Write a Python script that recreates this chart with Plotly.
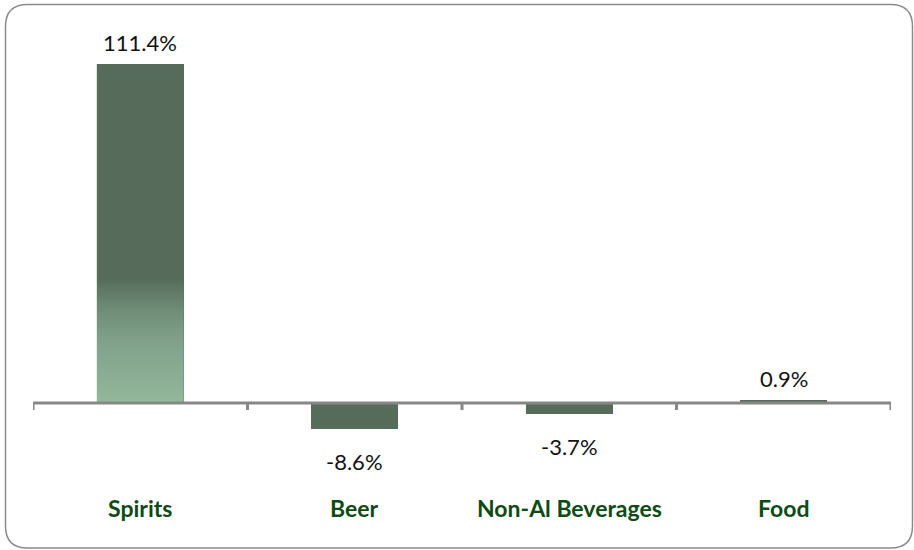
import plotly.graph_objects as go

# Year-on-year change by category (%)
categories = ["Spirits", "Beer", "Non-Al Beverages", "Food"]
changes = [111.4, -8.6, -3.7, 0.9]
value_labels = ["111.4%", "-8.6%", "-3.7%", "0.9%"]

BAR_DARK = "#566B5A"
BAR_LIGHT = "#93B89B"
AXIS_GRAY = "#878787"
CAT_GREEN = "#0D4A14"
FONT = "Lato"

W, H = 914, 550
ML, MR, MT, MB = 33, 23, 40, 110
Y_RANGE = [-12.17, 119.4]
BAR_W = 0.405

xs = list(range(len(categories)))

fig = go.Figure()

# Base bars
fig.add_trace(go.Bar(
    x=xs, y=changes, width=BAR_W,
    marker=dict(color=BAR_DARK, line=dict(width=0)),
    hoverinfo="skip", showlegend=False,
))

# Gradient overlay on the leading (Spirits) bar
i0, v0 = 0, changes[0]
fig.add_trace(go.Scatter(
    x=[i0 - BAR_W / 2, i0 + BAR_W / 2, i0 + BAR_W / 2, i0 - BAR_W / 2, i0 - BAR_W / 2],
    y=[0, 0, v0, v0, 0],
    mode="lines", line=dict(width=0), fill="toself",
    fillgradient=dict(
        type="vertical",
        colorscale=[[0.0, BAR_LIGHT], [0.19, "#80A08A"], [0.28, "#6E8B76"],
                    [0.37, BAR_DARK], [1.0, BAR_DARK]],
        start=0, stop=v0,
    ),
    hoverinfo="skip", showlegend=False,
))

# Value labels sitting above positive bars / below negative bars
for i, (v, t) in enumerate(zip(changes, value_labels)):
    fig.add_annotation(
        x=i, y=v, xref="x", yref="y", text=t, showarrow=False,
        yanchor="middle", yshift=22 if v >= 0 else -32,
        font=dict(family=FONT, size=22, color="#111111"),
    )

# Category labels below the chart
for i, c in enumerate(categories):
    fig.add_annotation(
        x=i, y=-(508 - (H - MB)) / (H - MT - MB), xref="x", yref="paper",
        text=f"<b>{c}</b>", showarrow=False, yanchor="middle",
        font=dict(family=FONT, size=23, color=CAT_GREEN),
    )

# Zero baseline with tick marks at category boundaries
shapes = [dict(type="line", xref="paper", yref="y", x0=0, x1=1, y0=0, y1=0,
               line=dict(color=AXIS_GRAY, width=3), layer="above")]
for b in [k - 0.5 for k in range(len(categories) + 1)]:
    shapes.append(dict(type="line", xref="x", yref="y", ysizemode="pixel", yanchor=0,
                       x0=b, x1=b, y0=0, y1=-7,
                       line=dict(color=AXIS_GRAY, width=3), layer="above"))

# Rounded outer frame (pixel coordinates converted to plot-area fractions)
pw, ph = W - ML - MR, H - MT - MB


def px(x):
    return (x - ML) / pw


def py(y):
    return (H - MB - y) / ph


L, R, T, B, r = 5.5, 912.5, 4.5, 548.0, 22
path = (
    f"M {px(L + r)},{py(T)} L {px(R - r)},{py(T)} "
    f"Q {px(R)},{py(T)} {px(R)},{py(T + r)} "
    f"L {px(R)},{py(B - r)} Q {px(R)},{py(B)} {px(R - r)},{py(B)} "
    f"L {px(L + r)},{py(B)} Q {px(L)},{py(B)} {px(L)},{py(B - r)} "
    f"L {px(L)},{py(T + r)} Q {px(L)},{py(T)} {px(L + r)},{py(T)} Z"
)
shapes.append(dict(type="path", xref="paper", yref="paper", path=path,
                   line=dict(color="#8a8a8a", width=1.5), layer="below"))

fig.update_layout(
    width=W, height=H,
    margin=dict(l=ML, r=MR, t=MT, b=MB, pad=0),
    paper_bgcolor="white", plot_bgcolor="white",
    shapes=shapes,
    bargap=0,
    xaxis=dict(range=[-0.5, 3.5], showgrid=False, zeroline=False, showline=False,
               showticklabels=False, ticks=""),
    yaxis=dict(range=Y_RANGE, showgrid=False, zeroline=False, showline=False,
               showticklabels=False, ticks=""),
    showlegend=False,
)

fig.write_html("out.html")
